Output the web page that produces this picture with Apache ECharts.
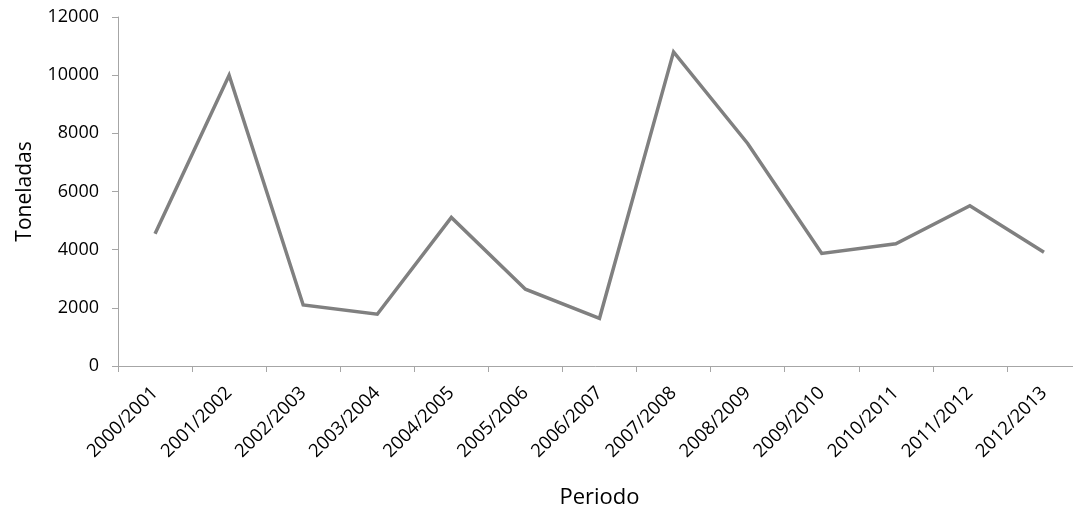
<!DOCTYPE html>
<html>
<head>
<meta charset="utf-8">
<script src="https://cdn.jsdelivr.net/npm/echarts@6/dist/echarts.min.js"></script>
<style>html,body{margin:0;padding:0;background:#fff;}#c{width:1073px;height:508px;}</style>
</head>
<body>
<div id="c"></div>
<script>
const categories = ["2000/2001","2001/2002","2002/2003","2003/2004","2004/2005","2005/2006","2006/2007","2007/2008","2008/2009","2009/2010","2010/2011","2011/2012","2012/2013"];
const toneladas = [4550, 10000, 2100, 1780, 5110, 2640, 1640, 10800, 7650, 3870, 4200, 5510, 3910];
const yTicks = [0, 2000, 4000, 6000, 8000, 10000, 12000];

const chart = echarts.init(document.getElementById('c'), null, {renderer: 'canvas'});
const font = '"Open Sans", sans-serif';
chart.setOption({
  animation: false,
  backgroundColor: '#ffffff',
  grid: {left: 118, top: 17, width: 963, height: 349, containLabel: false, outerBoundsMode: 'none'},
  xAxis: {
    type: 'category',
    data: categories,
    boundaryGap: true,
    name: 'Periodo',
    nameLocation: 'middle',
    nameGap: 121,
    nameTextStyle: {fontFamily: font, fontSize: 22, color: '#000'},
    axisLine: {lineStyle: {color: '#a6a6a6', width: 1}},
    axisTick: {show: true, alignWithLabel: false, interval: 0, length: 6, lineStyle: {color: '#a6a6a6'}},
    axisLabel: {interval: 0, rotate: 45, margin: 24, fontFamily: font, fontSize: 18.5, color: '#000'},
    splitLine: {show: false}
  },
  yAxis: {
    type: 'value',
    min: yTicks[0],
    max: yTicks[yTicks.length - 1],
    interval: yTicks[1] - yTicks[0],
    name: 'Toneladas',
    nameLocation: 'middle',
    nameGap: 82,
    nameTextStyle: {fontFamily: font, fontSize: 21, color: '#000'},
    axisLine: {show: true, lineStyle: {color: '#a6a6a6', width: 1}},
    axisTick: {show: true, length: 6, lineStyle: {color: '#a6a6a6'}},
    axisLabel: {margin: 19, fontFamily: font, fontSize: 18, color: '#000', formatter: function (v) { return String(v); }},
    splitLine: {show: false}
  },
  series: [{
    type: 'line',
    data: toneladas,
    symbol: 'none',
    lineStyle: {color: '#808080', width: 3.5, join: 'miter'},
    itemStyle: {color: '#808080'}
  }]
});
</script>
</body>
</html>
